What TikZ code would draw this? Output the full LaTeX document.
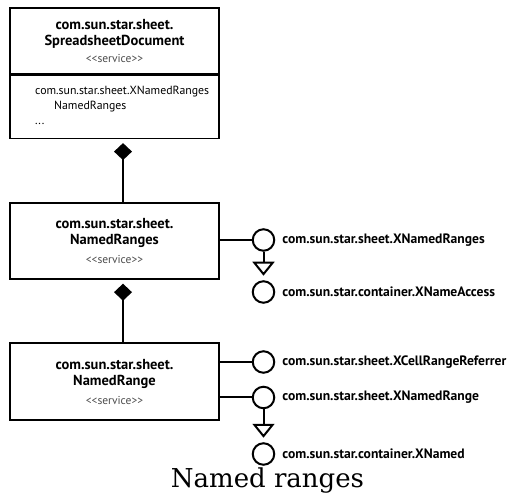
\documentclass[tikz,border=0pt]{standalone}
\usepackage{fontspec}
\setmainfont{DejaVu Serif}
\newfontfamily\umlfont{PT Sans}
\usetikzlibrary{arrows.meta, positioning, shapes.geometric}

% stereotype line under the service names
\newcommand{\stereo}{{\fontsize{11.5}{12}\selectfont\mdseries\color{black!70}<\kern0pt<service>\kern0pt>}}

\begin{document}
\begin{tikzpicture}[x=1pt, y=-1pt,
        block/.style={rectangle, draw, line width=1.4pt, minimum width=209pt, inner sep=0pt, align=center, font=\umlfont\fontsize{14.5}{16}\selectfont\bfseries},
        members/.style={inner sep=0pt, align=left, font=\umlfont\fontsize{11.8}{15}\selectfont},
        iface/.style={circle, draw, line width=2pt, minimum size=21.5pt, inner sep=0pt},
        iname/.style={inner sep=0pt, anchor=west, font=\umlfont\fontsize{13.6}{15}\selectfont\bfseries},
        conn/.style={line width=2pt},
        comp/.style={conn, -{Diamond[length=17pt, width=18pt]}, shorten >=4pt},
        gen/.style={conn, -{Triangle[open, length=14pt, width=22pt, fill=white]}, shorten >=4.5pt}
    ]
        \useasboundingbox (0,0) rectangle (517,494);

        % SpreadsheetDocument
        \node[block, minimum height=66pt] (doc) at (114.5, 41) {com.sun.star.sheet.\\SpreadsheetDocument\\[1pt]\stereo};
        \node[block, minimum height=63pt, anchor=north] (docbody) at (doc.south) {};
        \node[members, anchor=north west] (docops) at (35, 86) {com.sun.star.sheet.XNamedRanges\\\hspace*{19pt}NamedRanges\\...};

        % NamedRanges
        \node[block, minimum height=76pt] (ranges) at (114.5, 241) {com.sun.star.sheet.\\NamedRanges\\[3pt]\stereo};
        \node[iface] (xnrs) at (263.5, 240) {};
        \node[iname, right=7pt of xnrs] (xnrsl) {com.sun.star.sheet.XNamedRanges};
        \node[iface] (xna) at (263.5, 292) {};
        \node[iname, right=7pt of xna] (xnal) {com.sun.star.container.XNameAccess};

        % NamedRange
        \node[block, minimum height=77pt] (range) at (114.5, 381.5) {com.sun.star.sheet.\\NamedRange\\[3pt]\stereo};
        \node[iface] (xcrr) at (263.5, 362) {};
        \node[iname, right=7pt of xcrr] (xcrrl) {com.sun.star.sheet.XCellRangeReferrer};
        \node[iface] (xnr) at (263.5, 397.5) {};
        \node[iname, right=7pt of xnr] (xnrl) {com.sun.star.sheet.XNamedRange};
        \node[iface] (xn) at (263.5, 454) {};
        \node[iname, right=7pt of xn] (xnl) {com.sun.star.container.XNamed};

        % Caption
        \node[font=\fontsize{26}{30}\selectfont, inner sep=0pt, anchor=base] (caption) at (267.5, 487.5) {Named ranges};

        % Connectors
        \draw[comp] ([xshift=8.5pt]ranges.north) -- ([xshift=8.5pt]docbody.south);
        \draw[comp] ([xshift=8.5pt]range.north) -- ([xshift=8.5pt]ranges.south);
        \draw[conn] (ranges.east |- xnrs) -- (xnrs);
        \draw[gen] (xnrs) -- (xna);
        \draw[conn] (range.east |- xcrr) -- (xcrr);
        \draw[conn] (range.east |- xnr) -- (xnr);
        \draw[gen] (xnr) -- (xn);
    \end{tikzpicture}
\end{document}
